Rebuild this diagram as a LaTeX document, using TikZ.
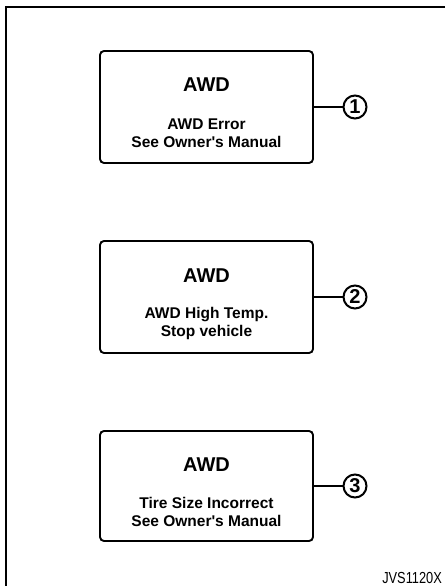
\documentclass[tikz,border=0pt]{standalone}
\usepackage{fontspec}
\setmainfont{Liberation Sans}
\usetikzlibrary{calc}

\begin{document}
\begin{tikzpicture}[x=1pt, y=-1pt,
  msgbox/.style={draw, line width=1.9pt, rounded corners=4pt, minimum width=213pt, minimum height=112pt},
  awdtitle/.style={font=\bfseries\fontsize{20}{24}\selectfont, anchor=base},
  awdtext/.style={font=\bfseries\fontsize{15.5}{18}\selectfont, align=center, inner sep=0pt},
  callout/.style={draw, circle, line width=2pt, minimum size=23pt, inner sep=0pt, font=\bfseries\fontsize{20}{20}\selectfont},
  lead/.style={line width=1.4pt}]
\useasboundingbox (0,0) rectangle (445,586);
\draw[line width=1.5pt] (445,7) -- (6,7) -- (6,586);
% message boxes
\node[msgbox] (box1) at (206.5,107) {}; \node[awdtitle] (title1) at ($(box1.center)+(0,-15)$) {AWD};
\node[awdtext] (text1) at ($(box1.center)+(0,26)$) {AWD Error\\See Owner\textquotesingle s Manual};
\node[msgbox] (box2) at (206.5,297) {}; \node[awdtitle] (title2) at ($(box2.center)+(0,-15)$) {AWD};
\node[awdtext] (text2) at ($(box2.center)+(0,26)$) {AWD High Temp.\\Stop vehicle};
\node[msgbox, minimum height=110pt] (box3) at (206.5,486) {}; \node[awdtitle] (title3) at ($(box3.center)+(0,-15)$) {AWD};
\node[awdtext] (text3) at ($(box3.center)+(0,26)$) {Tire Size Incorrect\\See Owner\textquotesingle s Manual};
% callouts
\node[callout] (num1) at (355,107) {1}; \draw[lead] (box1.east) -- (num1.west);
\node[callout] (num2) at (355,297) {2}; \draw[lead] (box2.east) -- (num2.west);
\node[callout] (num3) at (355,486) {3}; \draw[lead] (box3.east) -- (num3.west);
\node[anchor=base east, xscale=0.8, font=\fontsize{16}{16}\selectfont, inner sep=0pt] (code) at (442,583) {JVS1120X};
\end{tikzpicture}
\end{document}
